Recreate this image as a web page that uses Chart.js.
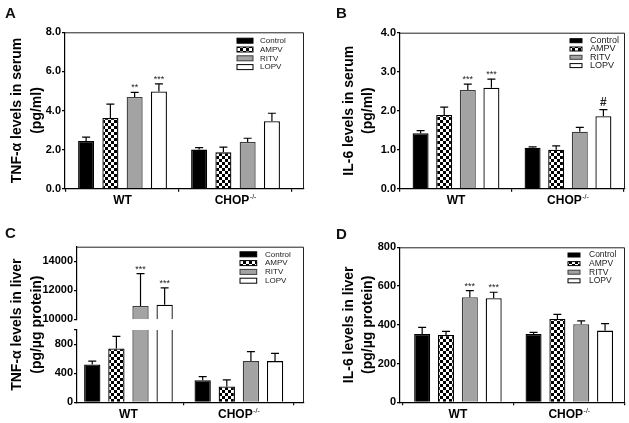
<!DOCTYPE html>
<html>
<head>
<meta charset="utf-8">
<script src="https://cdn.jsdelivr.net/npm/chart.js@4"></script>
<style>
  body { margin: 0; background: #fff; }
  #fig { position: relative; width: 629px; height: 423px; overflow: hidden; }
  canvas { position: absolute; }
  .tag { position: absolute; font: bold 15px Arial, "Liberation Sans", sans-serif; line-height: 15px; color: #111; }
</style>
</head>
<body>
<div id="fig">
  <canvas id="panelA" width="314" height="210" style="left:0;top:0"></canvas>
  <canvas id="panelB" width="315" height="210" style="left:314px;top:0"></canvas>
  <canvas id="panelC" width="314" height="213" style="left:0;top:210px"></canvas>
  <canvas id="panelD" width="315" height="213" style="left:314px;top:210px"></canvas>
  <div class="tag" style="left:5px;top:5px">A</div>
  <div class="tag" style="left:336px;top:5px">B</div>
  <div class="tag" style="left:5px;top:225px">C</div>
  <div class="tag" style="left:336px;top:226px">D</div>
</div>
<script>
// groups on the x axis, treatments = bars in each group
const groups = ['WT', 'CHOP-/-'];
const treatments = ['Control', 'AMPV', 'RITV', 'LOPV'];

// A - TNF-a in serum (pg/ml); rows = treatments, cols = groups
const tnfSerumMean = [[2.44, 2.00], [3.62, 1.86], [4.69, 2.39], [4.97, 3.45]];
const tnfSerumSem  = [[0.20, 0.10], [0.71, 0.27], [0.24, 0.19], [0.39, 0.41]];
const tnfSerumSig  = [['', ''], ['', ''], ['**', ''], ['***', '']];
const tnfSerumTicks = [0, 2, 4, 6, 8];

// B - IL-6 in serum (pg/ml)
const il6SerumMean = [[1.42, 1.05], [1.89, 1.00], [2.53, 1.46], [2.59, 1.86]];
const il6SerumSem  = [[0.07, 0.02], [0.20, 0.10], [0.15, 0.11], [0.22, 0.17]];
const il6SerumSig  = [['', ''], ['', ''], ['***', ''], ['***', '#']];
const il6SerumTicks = [0, 1, 2, 3, 4];

// C - TNF-a in liver (pg/ug protein), broken axis
const tnfLiverMean = [[524, 304], [744, 220], [10920, 570], [11010, 570]];
const tnfLiverSem  = [[46, 52], [168, 89], [2230, 132], [1150, 108]];
const tnfLiverSig  = [['', ''], ['', ''], ['***', ''], ['***', '']];
const tnfLiverLowTicks  = [0, 400, 800];
const tnfLiverHighTicks = [10000, 12000, 14000];

// D - IL-6 in liver (pg/ug protein)
const il6LiverMean = [[353, 353], [347, 430], [542, 403], [537, 370]];
const il6LiverSem  = [[34, 8], [19, 24], [34, 17], [31, 36]];
const il6LiverSig  = [['', ''], ['', ''], ['***', ''], ['***', '']];
const il6LiverTicks = [0, 200, 400, 600, 800];

const FONT = 'Arial, "Liberation Sans", sans-serif';

const checker = (() => {
  const c = document.createElement('canvas');
  c.width = 6; c.height = 6;
  const g = c.getContext('2d');
  g.fillStyle = '#fff'; g.fillRect(0, 0, 6, 6);
  g.fillStyle = '#000'; g.fillRect(0, 0, 3, 3); g.fillRect(3, 3, 3, 3);
  return g.createPattern(c, 'repeat');
})();
const fills = ['#000000', checker, '#a3a3a3', '#ffffff'];
const edges = ['#000000', '#000000', '#3c3c3c', '#000000'];

function makeDatasets(mean, sem, sig, axis, withErr) {
  return treatments.map((t, k) => ({
    label: t,
    data: groups.map((g, i) => ({ x: i, y: mean[k][i] })),
    errors: withErr ? sem[k] : null,
    marks: withErr ? sig[k] : null,
    backgroundColor: fills[k],
    borderColor: edges[k],
    borderWidth: 1.3,
    yAxisID: axis,
    stack: t
  }));
}

// plugins
const framePlugin = {
  id: 'frame',
  afterDraw(chart) {
    const { ctx, chartArea: a } = chart;
    ctx.save();
    ctx.strokeStyle = '#222';
    ctx.lineWidth = 1;
    ctx.beginPath();
    ctx.moveTo(a.left, a.top + 0.5);
    ctx.lineTo(a.right - 0.5, a.top + 0.5);
    ctx.lineTo(a.right - 0.5, a.bottom);
    ctx.stroke();
    ctx.restore();
  }
};

const errorBars = {
  id: 'errorBars',
  afterDatasetsDraw(chart, args, o) {
    const ctx = chart.ctx;
    const axisFor = v => (o.highAxis && v >= o.breakAt ? o.highAxis : 'y');
    chart.data.datasets.forEach((ds, di) => {
      if (!ds.errors) return;
      chart.getDatasetMeta(di).data.forEach((bar, i) => {
        const mean = ds.data[i].y;
        const hi = mean + ds.errors[i];
        const y0 = chart.scales[axisFor(mean)].getPixelForValue(mean);
        const y1 = chart.scales[axisFor(hi)].getPixelForValue(hi);
        ctx.save();
        ctx.strokeStyle = '#000';
        ctx.lineWidth = 1.2;
        ctx.beginPath();
        ctx.moveTo(bar.x, y0);
        ctx.lineTo(bar.x, y1);
        ctx.moveTo(bar.x - 4, y1);
        ctx.lineTo(bar.x + 4, y1);
        ctx.stroke();
        const mark = ds.marks && ds.marks[i];
        if (mark) {
          const hash = mark === '#';
          ctx.fillStyle = '#222';
          ctx.font = (hash ? 'bold 12px ' : '9px ') + FONT;
          ctx.textAlign = 'center';
          ctx.textBaseline = 'alphabetic';
          ctx.fillText(mark, bar.x, y1 - (hash ? 4 : 2));
        }
        ctx.restore();
      });
    });
  }
};

const boxLegend = {
  id: 'boxLegend',
  afterDraw(chart, args, o) {
    const { ctx, chartArea: a } = chart;
    ctx.save();
    ctx.font = o.size + 'px ' + FONT;
    ctx.textBaseline = 'middle';
    ctx.textAlign = 'left';
    treatments.forEach((t, k) => {
      const ds = chart.data.datasets[k];
      const y = a.top + o.top + k * o.gap;
      const x = a.right - o.box;
      ctx.fillStyle = ds.backgroundColor;
      ctx.fillRect(x, y - o.h / 2, o.w, o.h);
      ctx.strokeStyle = ds.borderColor;
      ctx.lineWidth = 1;
      ctx.strokeRect(x, y - o.h / 2, o.w, o.h);
      ctx.fillStyle = '#222';
      ctx.fillText(t, a.right - o.text, y);
    });
    ctx.restore();
  }
};

const groupLabels = {
  id: 'groupLabels',
  afterDraw(chart) {
    const { ctx, chartArea: a } = chart;
    const xs = chart.scales.x;
    ctx.save();
    ctx.fillStyle = '#000';
    ctx.textAlign = 'left';
    ctx.textBaseline = 'alphabetic';
    groups.forEach((g, i) => {
      const [main, sup] = g.split(/(?=-\/-)/);
      ctx.font = 'bold 12px ' + FONT;
      const w1 = ctx.measureText(main).width;
      ctx.font = '7px ' + FONT;
      const w2 = sup ? ctx.measureText(sup).width + 0.5 : 0;
      const x0 = xs.getPixelForValue(i) - (w1 + w2) / 2;
      const yb = a.bottom + 15.5;
      ctx.font = 'bold 12px ' + FONT;
      ctx.fillText(main, x0, yb);
      if (sup) {
        ctx.font = '7px ' + FONT;
        ctx.fillText(sup, x0 + w1 + 0.5, yb - 5);
      }
    });
    ctx.restore();
  }
};

// keeps each dataset inside its own part of a stacked (broken) axis
const clipToAxis = {
  id: 'clipToAxis',
  beforeDatasetDraw(chart, args) {
    const s = chart.scales[args.meta.yAxisID];
    const a = chart.chartArea;
    chart.ctx.save();
    chart.ctx.beginPath();
    chart.ctx.rect(a.left, s.top, a.right - a.left, s.bottom - s.top);
    chart.ctx.clip();
  },
  afterDatasetDraw(chart) {
    chart.ctx.restore();
  }
};

const tickFont = { family: FONT, size: 11, weight: 'bold' };
const titleFont = { family: FONT, size: 14, weight: 'bold', lineHeight: 1.39 };

function yScale(ticks, min, max, fmt, width, extra) {
  return Object.assign({
    type: 'linear', position: 'left', min: min, max: max,
    afterBuildTicks: s => { s.ticks = ticks.map(v => ({ value: v })); },
    afterFit: s => { s.width = width; },
    ticks: { callback: fmt, font: tickFont, color: '#000', padding: 1, autoSkip: false },
    grid: { drawOnChartArea: false, tickLength: 3, color: '#000', lineWidth: 1.2 },
    border: { color: '#000', width: 1.2 }
  }, extra || {});
}

function xScale(min, max, height, extra) {
  return Object.assign({
    type: 'linear', min: min, max: max, offset: false,
    afterBuildTicks: s => { s.ticks = groups.map((g, i) => ({ value: i })); },
    afterFit: s => { s.height = height; },
    ticks: { display: false },
    grid: { drawOnChartArea: false, tickLength: 3, color: '#000', lineWidth: 1.2 },
    border: { color: '#000', width: 1.2 }
  }, extra || {});
}

function yTitle(text, pad) {
  return { display: true, text: text, font: titleFont, color: '#000', padding: { top: pad, bottom: 0 } };
}

function commonOptions(p) {
  return {
    responsive: false,
    animation: false,
    layout: { padding: { top: p.top, right: p.right, left: 0, bottom: 0 } },
    datasets: { bar: { categoryPercentage: p.cat, barPercentage: p.bar } },
    plugins: {
      legend: { display: false },
      tooltip: { enabled: false },
      boxLegend: p.legend,
      errorBars: p.err || {}
    }
  };
}

const plugins = [framePlugin, errorBars, boxLegend, groupLabels];

// A
const optsA = commonOptions({ top: 32.3, right: 10, cat: 0.859, bar: 0.66,
  legend: { box: 67, text: 44, top: 8.4, gap: 8.8, w: 16, h: 5, size: 8 } });
optsA.scales = {
  x: xScale(-0.509, 1.606, 21.3),
  y: yScale(tnfSerumTicks, 0, 8, v => v.toFixed(1), 65,
    { title: yTitle(['TNF-\u03b1 levels in serum', '(pg/ml)'], 7.75) })
};
new Chart(document.getElementById('panelA'), {
  type: 'bar',
  data: { datasets: makeDatasets(tnfSerumMean, tnfSerumSem, tnfSerumSig, 'y', true) },
  options: optsA,
  plugins: plugins
});

// B
const optsB = commonOptions({ top: 32.7, right: 4, cat: 0.843, bar: 0.678,
  legend: { box: 55, text: 35, top: 8, gap: 8.3, w: 12, h: 4, size: 9 } });
optsB.scales = {
  x: xScale(-0.5, 1.509, 21.3),
  y: yScale(il6SerumTicks, 0, 4, v => v.toFixed(1), 86,
    { title: yTitle(['IL-6 levels in serum', '(pg/ml)'], 25.25) })
};
new Chart(document.getElementById('panelB'), {
  type: 'bar',
  data: { datasets: makeDatasets(il6SerumMean, il6SerumSem, il6SerumSig, 'y', true) },
  options: optsB,
  plugins: plugins
});

// C - lower part 0..1000, upper part 10000..15000, stacked on one side
const optsC = commonOptions({ top: 36.7, right: 10, cat: 0.874, bar: 0.676,
  legend: { box: 64, text: 39, top: 7.6, gap: 8.8, w: 16.7, h: 5, size: 8 },
  err: { highAxis: 'yHigh', breakAt: 10000 } });
optsC.scales = {
  x: xScale(-0.466, 1.59, 20.7, { stacked: true }),
  y: yScale(tnfLiverLowTicks.concat([1000]), 0, 1000, v => (v === 1000 ? '' : v), 77,
    { stack: 'c', stackWeight: 72.3, weight: 0, stacked: false }),
  gap: {
    type: 'linear', position: 'left', stack: 'c', stackWeight: 10.7, weight: 1,
    afterFit: s => { s.width = 77; },
    ticks: { display: false }, grid: { display: false }, border: { display: false },
    title: yTitle(['TNF-\u03b1 levels in liver', '(pg/\u00b5g protein)'], 7.75)
  },
  yHigh: yScale(tnfLiverHighTicks, 10000, 15000, v => v, 77,
    { stack: 'c', stackWeight: 72.6, weight: 2, stacked: false })
};
new Chart(document.getElementById('panelC'), {
  type: 'bar',
  data: { datasets: makeDatasets(tnfLiverMean, tnfLiverSem, tnfLiverSig, 'y', true)
    .concat(makeDatasets(tnfLiverMean, tnfLiverSem, tnfLiverSig, 'yHigh', false)) },
  options: optsC,
  plugins: plugins.concat([clipToAxis])
});

// D
const optsD = commonOptions({ top: 37.3, right: 4, cat: 0.856, bar: 0.672,
  legend: { box: 57, text: 36, top: 7.7, gap: 8.6, w: 12, h: 4, size: 8.5 } });
optsD.scales = {
  x: xScale(-0.52, 1.50, 20.7),
  y: yScale(il6LiverTicks, 0, 800, v => v, 86,
    { title: yTitle(['IL-6 levels in liver', '(pg/\u00b5g protein)'], 25.25) })
};
new Chart(document.getElementById('panelD'), {
  type: 'bar',
  data: { datasets: makeDatasets(il6LiverMean, il6LiverSem, il6LiverSig, 'y', true) },
  options: optsD,
  plugins: plugins
});
</script>
</body>
</html>
